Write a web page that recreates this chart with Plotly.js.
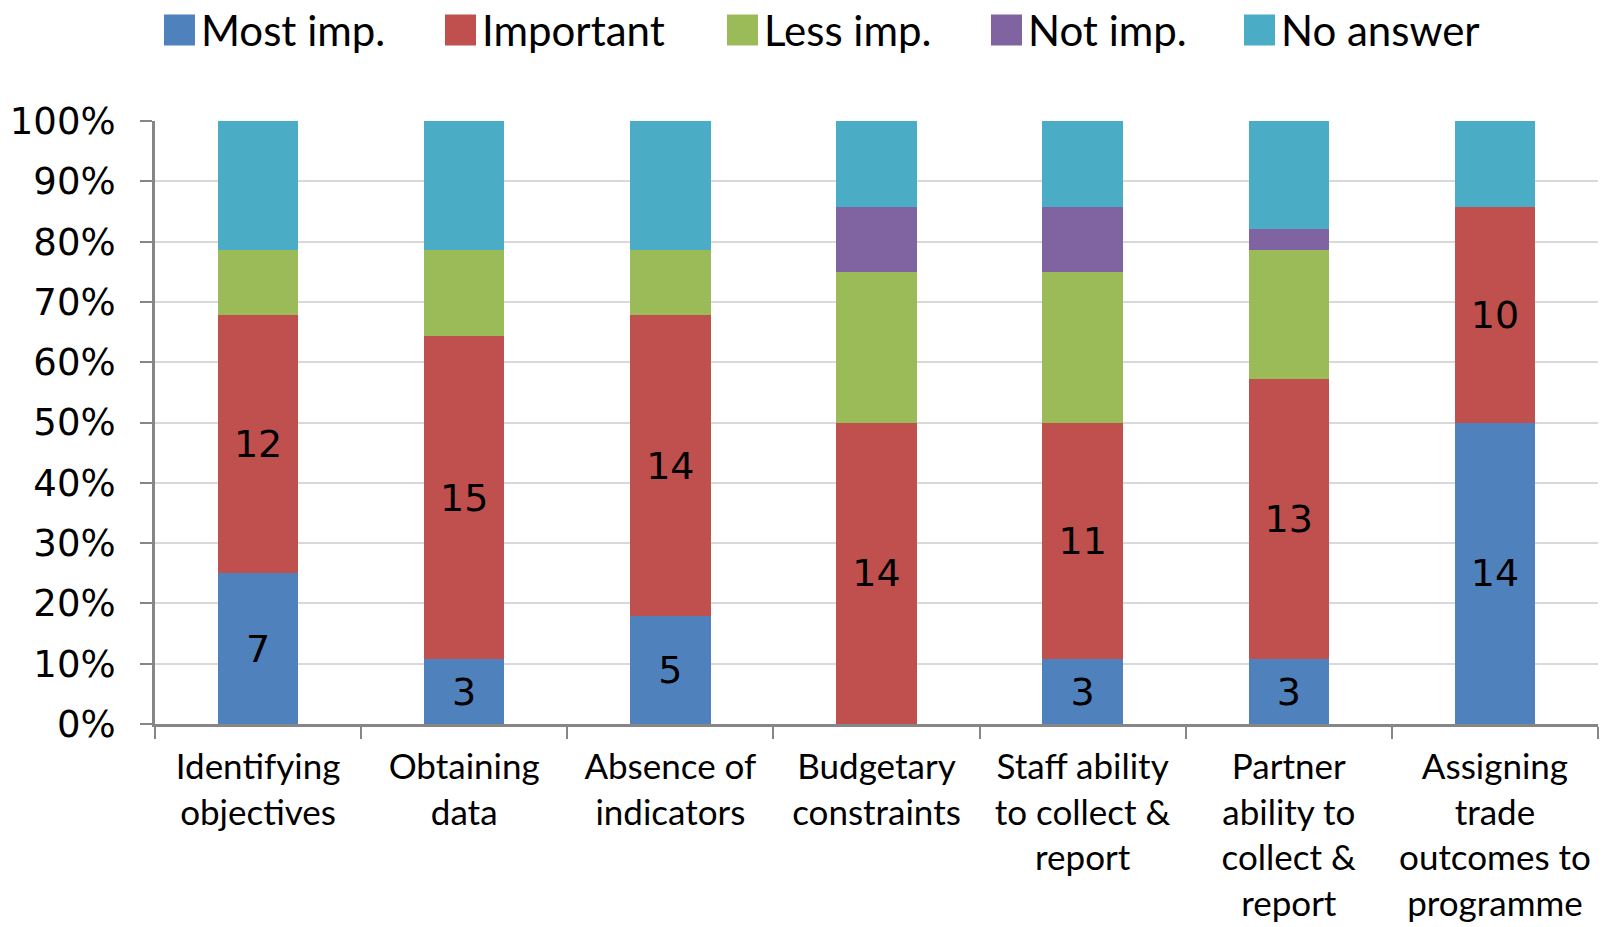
<!DOCTYPE html>
<html>
<head>
<meta charset="utf-8">
<script src="https://cdn.plot.ly/plotly-3.0.1.min.js"></script>
<style>html,body{margin:0;padding:0;background:#fff}#chart{width:1606px;height:927px}</style>
</head>
<body>
<div id="chart"></div>
<script>
const categories = [
  "Identifying<br>objectives",
  "Obtaining<br>data",
  "Absence of<br>indicators",
  "Budgetary<br>constraints",
  "Staff ability<br>to collect &amp;<br>report",
  "Partner<br>ability to<br>collect &amp;<br>report",
  "Assigning<br>trade<br>outcomes to<br>programme"
];
const seriesNames = ["Most imp.", "Important", "Less imp.", "Not imp.", "No answer"];
const mostImp   = [7, 3, 5, 0, 3, 3, 14];
const important = [12, 15, 14, 14, 11, 13, 10];
const lessImp   = [3, 4, 3, 7, 7, 6, 0];
const notImp    = [0, 0, 0, 3, 3, 1, 0];
const noAnswer  = [6, 6, 6, 4, 4, 5, 4];
const colors = ["#4F81BD", "#C0504D", "#9BBB59", "#8064A2", "#4BACC6"];
const labelled = [true, true, false, false, false];

const seriesValues = [mostImp, important, lessImp, notImp, noAnswer];

const W = 1606, H = 927;
const M = {l: 155, r: 8, t: 121, b: 203};
const pw = W - M.l - M.r, ph = H - M.t - M.b;

const traces = seriesValues.map((vals, i) => ({
  type: "bar",
  name: seriesNames[i],
  x: categories,
  y: vals,
  marker: {color: colors[i], line: {width: 0}},
  text: labelled[i] ? vals.map(v => v > 0 ? String(v) : "") : vals.map(() => ""),
  textposition: "inside",
  insidetextanchor: "middle",
  textangle: 0,
  constraintext: "none",
  textfont: {family: "DejaVu Sans", size: 38, color: "#000"},
  hoverinfo: "skip",
  showlegend: false
}));

// custom legend (large square swatches)
const legendX = [164, 445, 727, 991, 1244];
const swatch = 31;
const legendCy = 30;
const shapes = [];
const annotations = [];
seriesNames.forEach((n, i) => {
  const x0 = legendX[i];
  shapes.push({
    type: "rect", xref: "paper", yref: "paper",
    x0: (x0 - M.l) / pw, x1: (x0 + swatch - M.l) / pw,
    y0: (H - M.b - (legendCy + swatch / 2)) / ph, y1: (H - M.b - (legendCy - swatch / 2)) / ph,
    fillcolor: colors[i], line: {width: 0}
  });
  annotations.push({
    xref: "paper", yref: "paper",
    x: (x0 + swatch + 4 - M.l) / pw, y: (H - M.b - legendCy) / ph,
    xanchor: "left", yanchor: "middle",
    text: n, showarrow: false,
    font: {family: "Lato", size: 42, color: "#000"}
  });
});

const layout = {
  width: W, height: H,
  margin: M,
  paper_bgcolor: "#fff", plot_bgcolor: "#fff",
  barmode: "stack",
  barnorm: "percent",
  bargap: 0.61,
  showlegend: false,
  xaxis: {
    type: "category",
    showline: true, linecolor: "#868686", linewidth: 3,
    ticks: "outside", tickson: "boundaries", ticklen: 12, tickwidth: 2, tickcolor: "#868686",
    tickfont: {family: "Lato", size: 35, color: "#000"},
    showgrid: false, zeroline: false,
    tickangle: 0,
    ticklabelstandoff: 10
  },
  yaxis: {
    range: [0, 100],
    dtick: 10, tick0: 0,
    ticksuffix: "%",
    showline: true, linecolor: "#868686", linewidth: 3,
    ticks: "outside", ticklen: 12, tickwidth: 2, tickcolor: "#868686",
    tickfont: {family: "DejaVu Sans", size: 37, color: "#000"},
    showgrid: true, gridcolor: "#D9D9D9", gridwidth: 2,
    zeroline: false,
    ticklabelstandoff: 17
  },
  shapes: shapes,
  annotations: annotations
};

Plotly.newPlot("chart", traces, layout, {staticPlot: true, displayModeBar: false});
</script>
</body>
</html>
